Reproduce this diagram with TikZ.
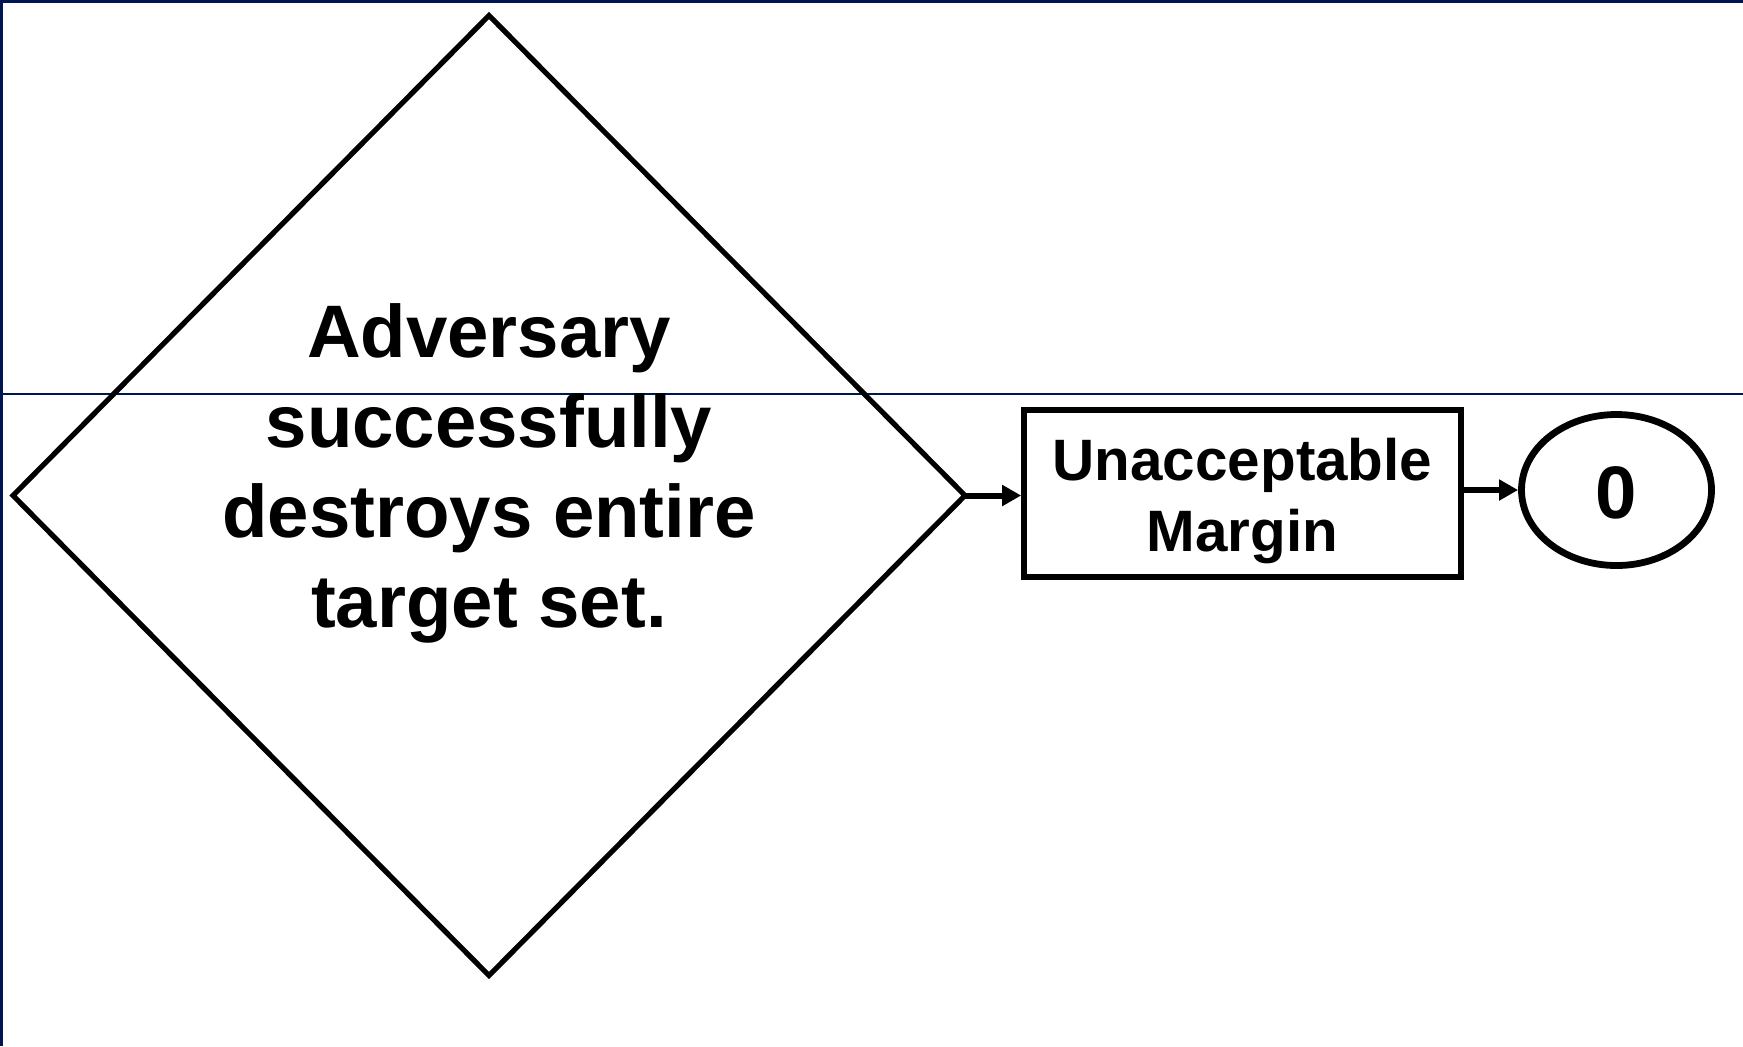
\documentclass[tikz,border=0pt]{standalone}
\usepackage{fontspec}
\setmainfont{Liberation Sans}
\usetikzlibrary{shapes.geometric,arrows.meta}
\definecolor{navy}{RGB}{0,22,80}
\tikzset{
  flowline/.style={line width=3pt, -{Triangle[length=9.5pt,width=10pt]}},
  bigtext/.style={font=\bfseries\fontsize{37.2}{45}\selectfont, align=center},
  boxtext/.style={font=\bfseries\fontsize{29.2}{35.5}\selectfont, align=center}
}
\begin{document}
\begin{tikzpicture}[x=0.5pt,y=-0.5pt]
\useasboundingbox (0,0) rectangle (1743,1046);
\fill[white] (0,0) rectangle (1743,1046);
\fill[navy] (0,0) rectangle (1743,3);
\fill[navy] (0,0) rectangle (3,1046);
\draw[navy, line width=0.75pt] (0,394) -- (1743,394);
\node[diamond, draw, line width=2.6pt, minimum width=476pt, minimum height=480pt, inner sep=0pt, outer sep=0pt] (dec) at (489,495.5) {};
\node[bigtext] (dectext) at (489,473) {Adversary\\successfully\\destroys entire\\target set.};
\node[draw, line width=2.9pt, minimum width=218.4pt, minimum height=83.3pt, inner sep=0pt] (box) at (1242.5,493.3) {};
\node[boxtext] (boxlabel) at (1242.5,501) {Unacceptable\\Margin};
\node[ellipse, draw, line width=3.4pt, minimum width=95pt, minimum height=75.5pt, inner sep=0pt] (out) at (1616.5,490) {};
\node[bigtext] (outlabel) at (1616.5,493) {0};
\draw[flowline] (dec.east) -- (dec.east -| box.west);
\draw[flowline] (box.east |- out.west) -- (out.west);
\end{tikzpicture}
\end{document}
